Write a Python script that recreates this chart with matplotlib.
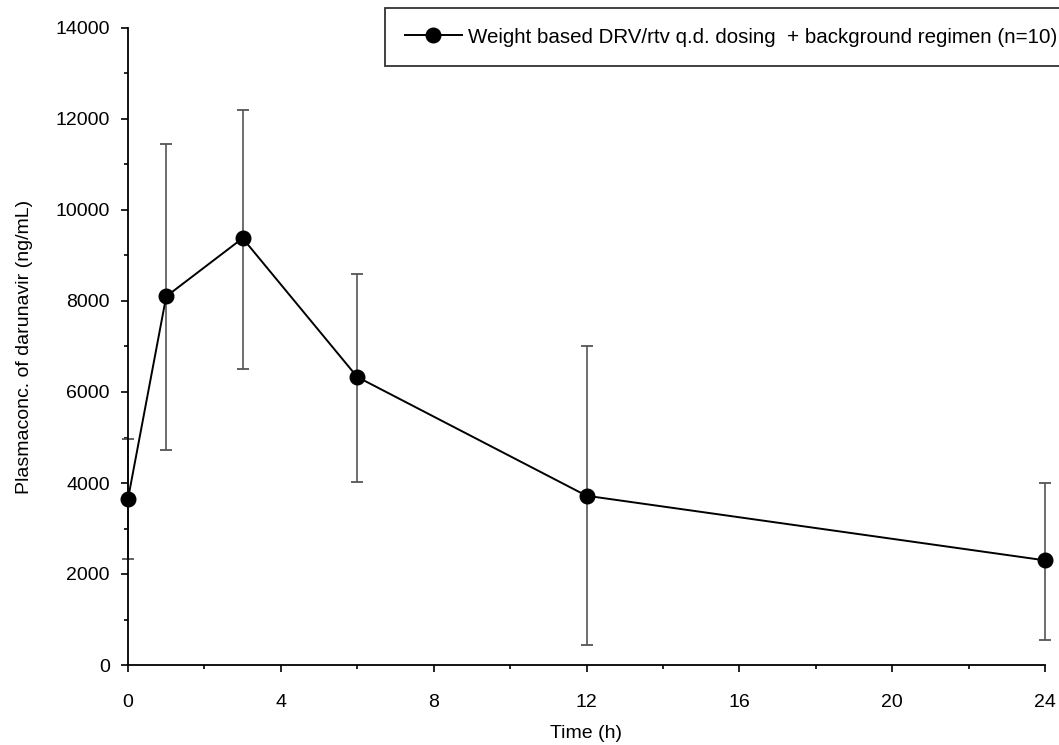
import matplotlib
matplotlib.use("Agg")
import matplotlib.pyplot as plt
from matplotlib.ticker import MultipleLocator

plt.rcParams['font.family'] = ['Liberation Sans', 'DejaVu Sans']

# mean darunavir concentration and error bar limits
time_h = [0, 1, 3, 6, 12, 24]
conc = [3650, 8100, 9380, 6330, 3720, 2300]
upper = [4970, 11450, 12200, 8600, 7000, 4010]
lower = [2330, 4730, 6500, 4020, 430, 550]

err_low = [c - l for c, l in zip(conc, lower)]
err_high = [u - c for c, u in zip(conc, upper)]

fig = plt.figure(figsize=(10.59, 7.45), dpi=100)
ax = fig.add_axes([128 / 1059, 80 / 745, (1045 - 128) / 1059, (665 - 28) / 745])

ax.errorbar(time_h, conc, yerr=[err_low, err_high], fmt='none',
            ecolor='#555555', elinewidth=1.2, capsize=4.5, capthick=1.3)
ax.plot(time_h, conc, color='black', lw=1.4, marker='o', markersize=10.5,
        label='Weight based DRV/rtv q.d. dosing  + background regimen (n=10)')

ax.set_xlim(0, 24)
ax.set_ylim(0, 14000)
ax.xaxis.set_major_locator(MultipleLocator(4))
ax.xaxis.set_minor_locator(MultipleLocator(2))
ax.yaxis.set_major_locator(MultipleLocator(2000))
ax.yaxis.set_minor_locator(MultipleLocator(1000))
ax.spines['top'].set_visible(False)
ax.spines['right'].set_visible(False)
ax.tick_params(which='major', length=5, width=1.2, labelsize=14)
ax.tick_params(axis='x', pad=16)
ax.tick_params(axis='y', pad=8)
ax.tick_params(which='minor', length=3, width=1.2)
for s in ('left', 'bottom'):
    ax.spines[s].set_linewidth(1.3)
for artist in ax.get_children():
    artist.set_clip_on(False)

ax.set_xlabel('Time (h)', fontsize=14, labelpad=10)
ax.set_ylabel('Plasmaconc. of darunavir (ng/mL)', fontsize=14, labelpad=16)

leg = fig.legend(loc='upper left', bbox_to_anchor=(385 / 1059, 1 - 8 / 745),
                 fontsize=14.8, frameon=True, fancybox=False, edgecolor='black',
                 borderpad=0.95, handlelength=2.8, handletextpad=0.3,
                 borderaxespad=0)
leg.get_frame().set_linewidth(1.3)

fig.savefig('out.png', dpi=100)
